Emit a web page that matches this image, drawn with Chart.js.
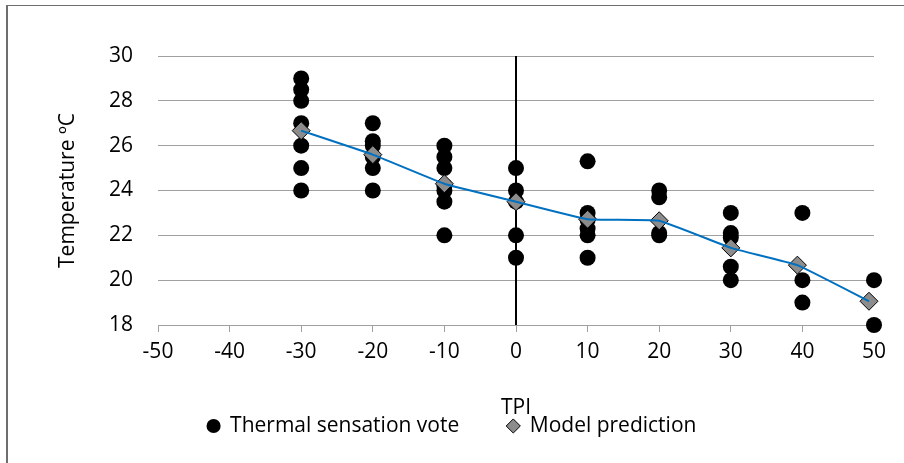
<!DOCTYPE html>
<html>
<head>
<meta charset="utf-8">
<script src="https://cdn.jsdelivr.net/npm/chart.js@4/dist/chart.umd.min.js"></script>
<style>
  body { margin: 0; background: #fff; }
  #wrap { position: relative; width: 904px; height: 463px; overflow: hidden; }
  #frame {
    position: absolute; left: 6px; top: 5px; width: 1000px; height: 1000px;
    border-left: 2px solid #6e6e6e; border-top: 1px solid #6e6e6e;
    pointer-events: none;
  }
</style>
</head>
<body>
<div id="wrap">
  <canvas id="tpiChart" width="904" height="463"></canvas>
  <div id="frame"></div>
</div>
<script>
// Measured votes: one TPI value per group, with the temperatures recorded there
const voteTPI = [-30, -20, -10, 0, 10, 20, 30, 40, 50]
const voteTemps = [
    [29, 28.5, 28, 27, 26, 25, 24],
    [27, 26.2, 26, 25.5, 25, 24],
    [26, 25.5, 25, 24.2, 24, 23.5, 22],
    [25, 24, 23.5, 22, 21],
    [25.3, 23, 22.7, 22.3, 22, 21],
    [24, 23.7, 22.1, 22],
    [23, 22.1, 21.9, 20.6, 20],
    [23, 20, 19],
    [20, 18],
]

// Model curve
const modelTPI = [-30, -20, -10, 0, 10, 20, 30, 39.3, 49.3]
const modelTemp = [26.67, 25.6, 24.3, 23.5, 22.72, 22.65, 21.44, 20.67, 19.06]

// Axis ranges
const xRange = [-50, 50]
const yRange = [18, 30]

const FONT = { family: "'Open Sans', sans-serif", size: 21 }

const votePoints = []
voteTPI.forEach((x, i) => {
    voteTemps[i].forEach((y) => votePoints.push({ x, y }))
})
const modelPoints = modelTPI.map((x, i) => ({ x, y: modelTemp[i] }))

// Fixed scale boxes; the x scale keeps 30px free on the right of the plot
const fixBox = (size, rightGap = 0) => (scale) => {
    if (scale.isHorizontal()) scale.height = size
    else scale.width = size
    scale.paddingLeft = 0
    scale.paddingRight = rightGap
    scale.paddingTop = scale.paddingBottom = 0
}

const ctx = document.getElementById("tpiChart").getContext("2d")

new Chart(ctx, {
    type: "scatter",
    data: {
        datasets: [
            {
                label: "model line",
                type: "line",
                data: modelPoints,
                borderColor: "#0070C0",
                borderWidth: 2,
                pointRadius: 0,
                tension: 0.1,
                fill: false,
                clip: false,
                order: 0,
            },
            {
                label: "Model prediction",
                data: modelPoints,
                pointStyle: "rectRot",
                pointRadius: 9,
                pointBackgroundColor: "#8c8c8c",
                pointBorderColor: "#000",
                pointBorderWidth: 1,
                backgroundColor: "#8c8c8c",
                borderColor: "#000",
                borderWidth: 1,
                clip: false,
                order: 1,
            },
            {
                label: "Thermal sensation vote",
                data: votePoints,
                pointStyle: "circle",
                pointRadius: 8,
                pointBackgroundColor: "#000",
                pointBorderWidth: 0,
                backgroundColor: "#000",
                borderColor: "#000",
                borderWidth: 0,
                clip: false,
                order: 2,
            },
            {
                label: "zero line",
                type: "line",
                data: [{ x: 0, y: yRange[0] }, { x: 0, y: yRange[1] }],
                borderColor: "#000",
                borderWidth: 2,
                pointRadius: 0,
                fill: false,
                order: 3,
            },
        ],
    },
    options: {
        responsive: false,
        animation: false,
        layout: { padding: { left: 0, right: 0, top: 56, bottom: 16.5 } },
        plugins: {
            tooltip: { enabled: false },
            legend: {
                position: "bottom",
                labels: {
                    usePointStyle: true,
                    boxWidth: 12,
                    boxHeight: 10,
                    padding: 48,
                    color: "#000",
                    font: FONT,
                    filter: (item) => item.text !== "model line" && item.text !== "zero line",
                    sort: (a, b) => b.datasetIndex - a.datasetIndex,
                },
            },
        },
        scales: {
            x: {
                type: "linear",
                min: xRange[0],
                max: xRange[1],
                afterFit: fixBox(42.5, 30),
                ticks: { stepSize: 10, color: "#000", font: FONT, padding: 7, maxRotation: 0 },
                grid: {
                    drawOnChartArea: false,
                    drawTicks: true,
                    tickLength: 7,
                    color: "#a0a0a0",
                },
                border: { color: "#a0a0a0", width: 1 },
                title: {
                    display: true,
                    text: "TPI",
                    color: "#000",
                    font: FONT,
                    padding: { top: 0, bottom: -53 },
                },
            },
            y: {
                min: yRange[0],
                max: yRange[1],
                afterFit: fixBox(158),
                ticks: { stepSize: 2, color: "#000", font: FONT, padding: 25 },
                grid: { color: "#a0a0a0", drawTicks: false },
                border: { display: false },
                title: {
                    display: true,
                    text: "Temperature ºC",
                    color: "#000",
                    font: FONT,
                    padding: { top: 55, bottom: 0 },
                },
            },
        },
    },
})
</script>
</body>
</html>
